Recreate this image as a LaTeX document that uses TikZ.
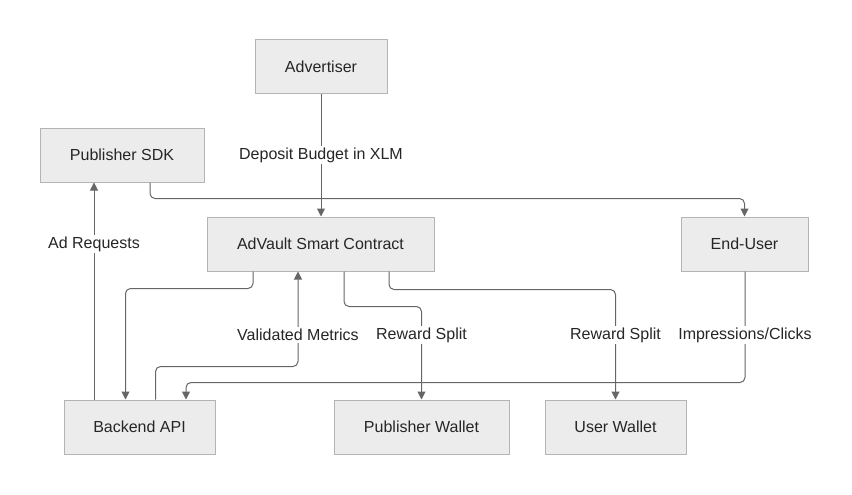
\documentclass[tikz,border=0pt]{standalone}
\usepackage{fontspec}
\setmainfont{Liberation Sans}
\usetikzlibrary{arrows.meta}
\definecolor{boxfill}{HTML}{ECECEC}
\definecolor{boxline}{HTML}{B4B4B4}
\definecolor{edgecol}{HTML}{666666}
\begin{document}
\begin{tikzpicture}[x=1pt,y=-1pt,
  box/.style={draw=boxline,fill=boxfill,line width=1pt,minimum height=54pt,inner sep=0pt,font=\fontsize{16}{19}\selectfont,text=black!85},
  edge/.style={draw=edgecol,line width=1pt,rounded corners=5pt,-{Triangle[length=8pt,width=8pt]}},
  lbl/.style={fill=white,inner sep=2pt,font=\fontsize{16}{19}\selectfont,text=black!85}]
\useasboundingbox (0,0) rectangle (852,495);
\node[box,minimum width=132pt] (adv) at (321,67) {Advertiser};
\node[box,minimum width=164pt] (sdk) at (122,155) {Publisher SDK};
\node[box,minimum width=227pt] (ac) at (320.5,244) {AdVault Smart Contract};
\node[box,minimum width=127pt] (eu) at (744.5,244) {End-User};
\node[box,minimum width=151pt] (be) at (139.5,427) {Backend API};
\node[box,minimum width=175pt] (pw) at (421.5,427) {Publisher Wallet};
\node[box,minimum width=141pt] (uw) at (615.5,427) {User Wallet};
% edges
\draw[edge] (adv.south) -- (adv.south |- ac.north);
\draw[edge] ([xshift=28pt]sdk.south) -- ++(0,16) -| (eu.north);
\draw[edge] ([xshift=-45.5pt]be.north) -- ([xshift=-28pt]sdk.south);
\draw[edge] ([xshift=-67.5pt]ac.south) -- ++(0,17) -| ([xshift=-14pt]be.north);
\draw[edge] ([xshift=16pt]be.north) -- ++(0,-33) -| ([xshift=-22.5pt]ac.south);
\draw[edge] ([xshift=23.5pt]ac.south) -- ++(0,35) -| (pw.north);
\draw[edge] ([xshift=68.5pt]ac.south) -- ++(0,18) -| (uw.north);
\draw[edge] ([xshift=0.5pt]eu.south) -- ++(0,111) -| ([xshift=46.5pt]be.north);
% labels
\node[lbl] (l1) at (321,155) {Deposit Budget in XLM};
\node[lbl] (l2) at (94,244) {Ad Requests};
\node[lbl] (l3) at (298,335) {Validated Metrics};
\node[lbl] (l4) at (421.5,335) {Reward Split};
\node[lbl] (l5) at (615.5,335) {Reward Split};
\node[lbl] (l6) at (745,335) {Impressions/Clicks};
\end{tikzpicture}
\end{document}
